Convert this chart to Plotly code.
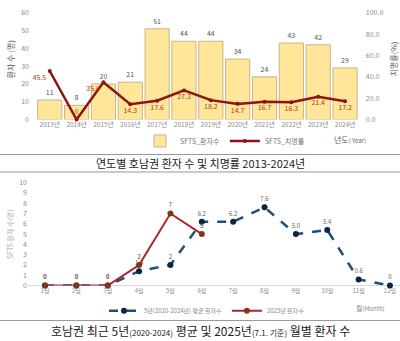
import plotly.graph_objects as go

years = ["2013년", "2014년", "2015년", "2016년", "2017년", "2018년", "2019년",
         "2020년", "2021년", "2022년", "2023년", "2024년"]
patients = [11, 8, 20, 21, 51, 44, 44, 34, 24, 43, 42, 29]
fatality = [45.5, 0, 35.0, 14.3, 17.6, 27.3, 18.2, 14.7, 16.7, 16.3, 21.4, 17.2]

months = ["1월", "2월", "3월", "4월", "5월", "6월", "7월", "8월", "9월", "10월", "11월", "12월"]
avg5 = [0, 0, 0, 1.4, 2, 6.2, 6.2, 7.6, 5.0, 5.4, 0.6, 0]
avg5_lbl = ["0", "0", "0", "1.4", "2", "6.2", "6.2", "7.6", "5.0", "5.4", "0.6", "0"]
y2025 = [0, 0, 0, 2, 7, 5]

FONT = "Noto Sans CJK KR"
H = 341.0
def py(px):
    return 1 - px / H

fig = go.Figure()

# top chart
fig.add_trace(go.Bar(
    x=years, y=patients, name="SFTS_환자수",
    marker=dict(color="#FFE699", line=dict(color="#C8B48A", width=1)),
    text=[str(v) for v in patients], textposition="outside",
    textfont=dict(size=7, color="#555555"), cliponaxis=False,
    xaxis="x", yaxis="y", legend="legend"))
pos = ["bottom left", "top center", "bottom left"] + ["bottom center"] * 9
fig.add_trace(go.Scatter(
    x=years, y=fatality, name="SFTS_치명률", mode="lines+markers+text",
    line=dict(color="#8B1414", width=2.5), marker=dict(size=4, color="#8B1414"),
    text=[f"{v:.1f}" if v else "0" for v in fatality], textposition=pos,
    textfont=dict(size=7, color="#B03A1E"), cliponaxis=False,
    xaxis="x", yaxis="y2", legend="legend"))

# bottom chart
fig.add_trace(go.Scatter(
    x=list(range(1, 13)), y=avg5, name="5년(2020-2024년) 평균 환자수",
    mode="lines+markers+text",
    line=dict(color="#1F4E79", width=2.5, dash="dash"),
    marker=dict(size=6, color="#0B2545"),
    text=avg5_lbl, textposition="top center",
    textfont=dict(size=6, color="#666666"), cliponaxis=False,
    xaxis="x2", yaxis="y3", legend="legend2"))
fig.add_trace(go.Scatter(
    x=list(range(1, 7)), y=y2025, name="2025년 환자수",
    mode="lines+markers+text",
    line=dict(color="#B2222A", width=2),
    marker=dict(size=6, color="#7A3B12"),
    text=[str(v) for v in y2025], textposition="top center",
    textfont=dict(size=6, color="#7A3B12"), cliponaxis=False,
    xaxis="x2", yaxis="y3", legend="legend2"))

tickf = dict(size=7, color="#8C8C8C", family=FONT)

fig.update_layout(
    width=400, height=341, margin=dict(l=0, r=0, t=0, b=0),
    paper_bgcolor="white", plot_bgcolor="white",
    font=dict(family=FONT),
    bargap=0.1,
    xaxis=dict(domain=[0.075, 0.912], anchor="y", showgrid=False, showline=False,
               tickfont=dict(size=6.5, color="#8C8C8C"), ticks="", tickangle=0),
    yaxis=dict(domain=[py(117), py(7)], range=[0, 60], dtick=10, anchor="x",
               showgrid=False, zeroline=False, tickfont=tickf),
    yaxis2=dict(overlaying="y", side="right", range=[0, 100], dtick=20,
                tickformat=".1f", showgrid=False, zeroline=False, tickfont=tickf,
                anchor="x"),
    xaxis2=dict(domain=[0.07, 1.0], anchor="y3", range=[0.458, 12.32],
                tickvals=list(range(1, 13)), ticktext=months,
                showgrid=False, zeroline=False, tickfont=dict(size=6, color="#8C8C8C")),
    yaxis3=dict(domain=[py(288), py(182)], range=[0, 10], dtick=1, anchor="x2",
                showgrid=False, zeroline=True, zerolinecolor="#D9D9D9",
                zerolinewidth=1, tickfont=tickf),
    legend=dict(orientation="h", x=0.35, y=py(139), xanchor="left", yanchor="middle",
                font=dict(size=7, color="#777777"), bgcolor="rgba(0,0,0,0)",
                itemwidth=30, tracegroupgap=0),
    legend2=dict(orientation="h", x=0.26, y=py(299), xanchor="left", yanchor="top",
                 font=dict(size=6, color="#888888"), bgcolor="rgba(0,0,0,0)",
                 itemwidth=30),
    showlegend=True,
)

anns = [
    dict(text="환자 수 (명)", x=10 / 400, y=py(55), textangle=-90,
         font=dict(size=8, color="#555555")),
    dict(text="치명률(%)", x=393 / 400, y=py(55), textangle=-90,
         font=dict(size=8, color="#555555")),
    dict(text="년도<span style='font-size:6px'>( Year)</span>", x=350 / 400, y=py(138),
         font=dict(size=8, color="#666666")),
    dict(text="연도별 호남권 환자 수 및 치명률 2013-2024년", x=0.5, y=py(162),
         font=dict(size=11, color="#222222")),
    dict(text="SFTS 환자 수(명)", x=10 / 400, y=py(235), textangle=-90,
         font=dict(size=7, color="#AAAAAA")),
    dict(text="월<span style='font-size:6px'>(Month)</span>", x=370 / 400, y=py(311),
         font=dict(size=7, color="#888888")),
    dict(text="호남권 최근 5년<span style='font-size:8px'>(2020-2024)</span> 평균 및 2025년"
              "<span style='font-size:8px'>(7.1. 기준)</span> 월별 환자 수",
         x=0.5, y=py(334), font=dict(size=12, color="#222222")),
]
for a in anns:
    a.update(xref="paper", yref="paper", showarrow=False, xanchor="center", yanchor="middle")
fig.update_layout(annotations=anns)

fig.update_layout(shapes=[
    dict(type="line", xref="paper", yref="paper", x0=0, x1=1, y0=py(153), y1=py(153),
         line=dict(color="#999999", width=1)),
    dict(type="line", xref="paper", yref="paper", x0=0, x1=1, y0=py(171), y1=py(171),
         line=dict(color="#999999", width=1)),
    dict(type="line", xref="paper", yref="paper", x0=0, x1=1, y0=py(324), y1=py(324),
         line=dict(color="#999999", width=1)),
])

fig.write_html("out.html")
